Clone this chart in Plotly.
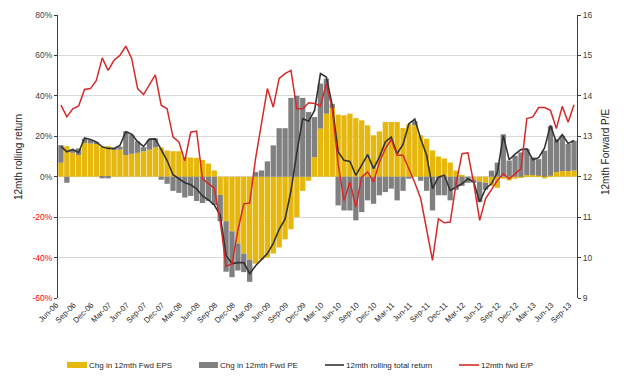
import plotly.graph_objects as go
import pandas as pd

# ---------------- data ----------------
months = list(pd.date_range("2006-06-01", periods=88, freq="MS").strftime("%b-%y"))

tick_labels = ["Jun-06", "Sep-06", "Dec-06", "Mar-07", "Jun-07", "Sep-07", "Dec-07", "Mar-08",
               "Jun-08", "Sep-08", "Dec-08", "Mar-09", "Jun-09", "Sep-09", "Dec-09", "Mar-10",
               "Jun-10", "Sep-10", "Dec-10", "Mar-11", "Jun-11", "Sep-11", "Dec-11", "Mar-12",
               "Jun-12", "Sep-12", "Dec-12", "Mar-13", "Jun-13", "Sep-13"]

eps_chg = [6.9, 15.1, 11.8, 10.7, 16.7, 16.4, 16.4, 14.8, 15.1, 13.4,
           13.4, 10.7, 11.3, 11.8, 12.6, 13.4, 14.5, 14.5, 13.0, 12.6,
           12.6, 9.7, 9.5, 9.3, 8.3, 6.5, 3.1, -9.0, -22.0, -27.0,
           -33.0, -38.0, -41.0, -43.0, -41.0, -40.0, -38.0, -35.0, -31.0, -26.0,
           -20.0, -7.0, -2.0, 9.7, 23.8, 31.2, 34.0, 30.7, 30.4, 31.2,
           29.0, 27.9, 25.4, 20.5, 22.4, 27.1, 27.1, 27.1, 24.1, 26.0,
           25.5, 20.5, 18.8, 13.0, 10.0, 9.0, 7.0, 3.0, 0.8, 0.0,
           -1.5, -2.5, -3.0, -4.5, -5.5, -1.0, -1.8, -1.0, -0.3, 0.8,
           0.8, 0.5, -0.8, 0.5, 2.3, 2.8, 2.8, 3.1]

pe_chg = [8.7, -3.0, 1.5, 3.3, 2.1, 1.8, 0.3, -0.8, -0.8, 0.5,
          1.5, 11.8, 9.5, 5.7, 2.0, 4.9, 4.4, -1.5, -3.5, -7.0,
          -8.0, -10.3, -9.5, -12.0, -13.0, -12.0, -14.0, -13.0, -25.0, -22.7,
          -13.4, -9.2, -11.0, 2.3, 3.1, 7.6, 15.5, 24.0, 24.0, 39.0,
          40.0, 39.0, 32.0, 19.8, 22.3, 17.3, 2.0, -14.2, -16.7, -16.7,
          -21.6, -17.5, -11.7, -13.4, -9.2, -7.6, -5.9, -11.7, -7.0, -1.0,
          2.0, -2.0, -7.0, -16.7, -9.2, -9.2, -11.7, -6.5, -4.5, -3.0,
          -1.5, -10.0, -3.5, 3.0, 7.0, 21.0, 8.0, 10.4, 12.0, 12.9,
          8.8, 8.2, 12.9, 24.5, 16.3, 17.5, 13.4, 14.7]

total_return = [15.0, 12.3, 13.5, 12.0, 19.2, 18.4, 17.2, 14.8, 14.0, 14.0,
                15.5, 22.2, 21.0, 17.3, 15.0, 18.6, 18.7, 13.0, 8.0, 1.0,
                -1.0, -3.0, -4.0, -6.0, -9.5, -11.5, -14.0, -19.0, -39.0, -43.0,
                -42.5, -42.5, -48.0, -44.0, -41.0, -38.0, -33.0, -26.0, -21.0, -7.0,
                12.0, 28.7, 27.4, 32.8, 51.0, 49.3, 35.3, 12.2, 8.1, 7.6,
                0.7, 5.6, 10.9, 4.0, 9.7, 17.2, 19.6, 11.4, 16.0, 26.2,
                28.5, 18.8, 10.6, -5.9, -0.2, 0.7, -6.8, -5.1, -3.5, -1.0,
                -2.6, -12.5, -5.9, -3.5, 2.3, 20.3, 8.4, 11.2, 13.4, 13.8,
                8.4, 9.4, 14.2, 25.4, 17.1, 20.8, 16.4, 17.9]

fwd_ep = [13.77, 13.48, 13.68, 13.75, 14.16, 14.18, 14.38, 14.94, 14.63, 14.88,
          15.00, 15.23, 14.92, 14.18, 14.03, 14.28, 14.52, 13.77, 13.68, 12.98,
          12.86, 12.39, 13.10, 13.13, 11.95, 11.83, 11.72, 10.90, 9.78, 9.85,
          10.67, 11.33, 11.35, 12.45, 13.35, 14.18, 13.72, 14.43, 14.55, 14.63,
          13.68, 13.68, 13.83, 13.81, 13.75, 14.30, 13.68, 12.32, 11.41, 11.87,
          11.25, 11.99, 12.12, 11.87, 12.36, 12.69, 12.92, 12.53, 12.53, 12.20,
          11.85, 11.46, 10.71, 9.93, 10.96, 10.86, 10.88, 11.83, 12.57, 12.59,
          11.83, 10.92, 11.46, 11.70, 11.91, 12.07, 11.95, 12.07, 12.20, 13.44,
          13.48, 13.71, 13.71, 13.64, 13.19, 13.74, 13.35, 13.78]

left_ticks = [-60, -40, -20, 0, 20, 40, 60, 80]
right_ticks = [9, 10, 11, 12, 13, 14, 15, 16]

series_names = ["Chg in 12mth Fwd EPS", "Chg in 12mth Fwd PE",
                "12mth rolling total return", "12mth fwd E/P"]

# ---------------- styling ----------------
YELLOW = "#E6B70C"
GRAY = "#808080"
BLACK = "#333333"
RED = "#D42A2A"
AXIS = "#404040"
TXT = "#262626"
FONT = "Liberation Sans, Arial, sans-serif"

fig = go.Figure()
fig.add_bar(x=months, y=eps_chg, name=series_names[0], marker=dict(color=YELLOW, line=dict(width=0)))
fig.add_bar(x=months, y=pe_chg, name=series_names[1], marker=dict(color=GRAY, line=dict(width=0)))
fig.add_scatter(x=months, y=total_return, name=series_names[2], mode="lines",
                line=dict(color=BLACK, width=1.6))
fig.add_scatter(x=months, y=fwd_ep, name=series_names[3], mode="lines", yaxis="y2",
                line=dict(color=RED, width=1.5))

left_text = [(f'<span style="color:#FF0000">{v}%</span>' if v < 0 else f"{v}%") for v in left_ticks]
n = len(months)
boundary_ticks = [k - 0.5 for k in range(0, n, 3)]

fig.update_layout(
    width=624, height=384,
    margin=dict(l=58, r=47, t=15, b=86, autoexpand=False),
    paper_bgcolor="white", plot_bgcolor="white",
    barmode="relative", bargap=0.1,
    showlegend=False,
    font=dict(family=FONT, color=TXT),
    xaxis=dict(type="category", categoryorder="array", categoryarray=months,
               range=[-0.5, n - 0.5], tickmode="array", tickvals=tick_labels, ticktext=tick_labels,
               tickangle=-45, tickfont=dict(family=FONT, size=7.8, color=TXT),
               ticklabelshift=-5, automargin=False,
               showgrid=False, showline=False, ticks="", zeroline=False),
    xaxis2=dict(overlaying="x", anchor="free", position=(298 - 178) / 283, type="linear",
                range=[-0.5, n - 0.5], tickmode="array", tickvals=boundary_ticks,
                showticklabels=False, ticks="outside", ticklen=3, tickcolor=AXIS,
                showline=True, linecolor=AXIS, linewidth=1, showgrid=False, zeroline=False),
    yaxis=dict(range=[-60, 80], tickmode="array", tickvals=left_ticks, ticktext=left_text,
               tickfont=dict(family=FONT, size=8.5, color=AXIS), automargin=False,
               showgrid=True, gridcolor="#D9D9D9", gridwidth=1,
               showline=True, linecolor=AXIS, linewidth=1,
               ticks="outside", ticklen=3, tickcolor=AXIS, zeroline=False),
    yaxis2=dict(overlaying="y", side="right", range=[9, 16], tickmode="array", tickvals=right_ticks,
                tickfont=dict(family=FONT, size=8.5, color=AXIS), automargin=False,
                showgrid=False, showline=True, linecolor=AXIS, linewidth=1,
                ticks="outside", ticklen=3, tickcolor=AXIS, zeroline=False),
)

# axis titles
fig.add_annotation(text="12mth rolling return", xref="paper", yref="paper",
                   x=(18 - 58) / 519, y=(298 - 157) / 283, textangle=-90, showarrow=False,
                   xanchor="center", yanchor="middle", font=dict(family=FONT, size=10, color=TXT))
fig.add_annotation(text="12mth Forward P/E", xref="paper", yref="paper",
                   x=(605 - 58) / 519, y=(298 - 152) / 283, textangle=-90, showarrow=False,
                   xanchor="center", yanchor="middle", font=dict(family=FONT, size=10, color=TXT))

# manual legend at the bottom
def px(xp):
    return (xp - 58) / 519

def py(yp):
    return (298 - yp) / 283

leg_y = 365
items = [(67, 87, "box", YELLOW), (199, 218, "box", GRAY), (325, 344, "line", BLACK), (459, 479, "line", RED)]
for (x0, x1, kind, col), name in zip(items, series_names):
    if kind == "box":
        fig.add_shape(type="rect", xref="paper", yref="paper", x0=px(x0), x1=px(x1),
                      y0=py(leg_y + 3), y1=py(leg_y - 3), fillcolor=col, line=dict(width=0))
    else:
        fig.add_shape(type="line", xref="paper", yref="paper", x0=px(x0), x1=px(x1),
                      y0=py(leg_y), y1=py(leg_y), line=dict(color=col, width=1.6))
    fig.add_annotation(text=name, xref="paper", yref="paper", x=px(x1 + 1), y=py(leg_y),
                       xanchor="left", yanchor="middle", showarrow=False, borderpad=0,
                       font=dict(family=FONT, size=8, color=TXT))

fig.write_html("out.html",
               config={"displayModeBar": False},
               post_script="document.body.style.margin='0';document.body.style.padding='0';"
                           "document.body.style.overflow='hidden';")
